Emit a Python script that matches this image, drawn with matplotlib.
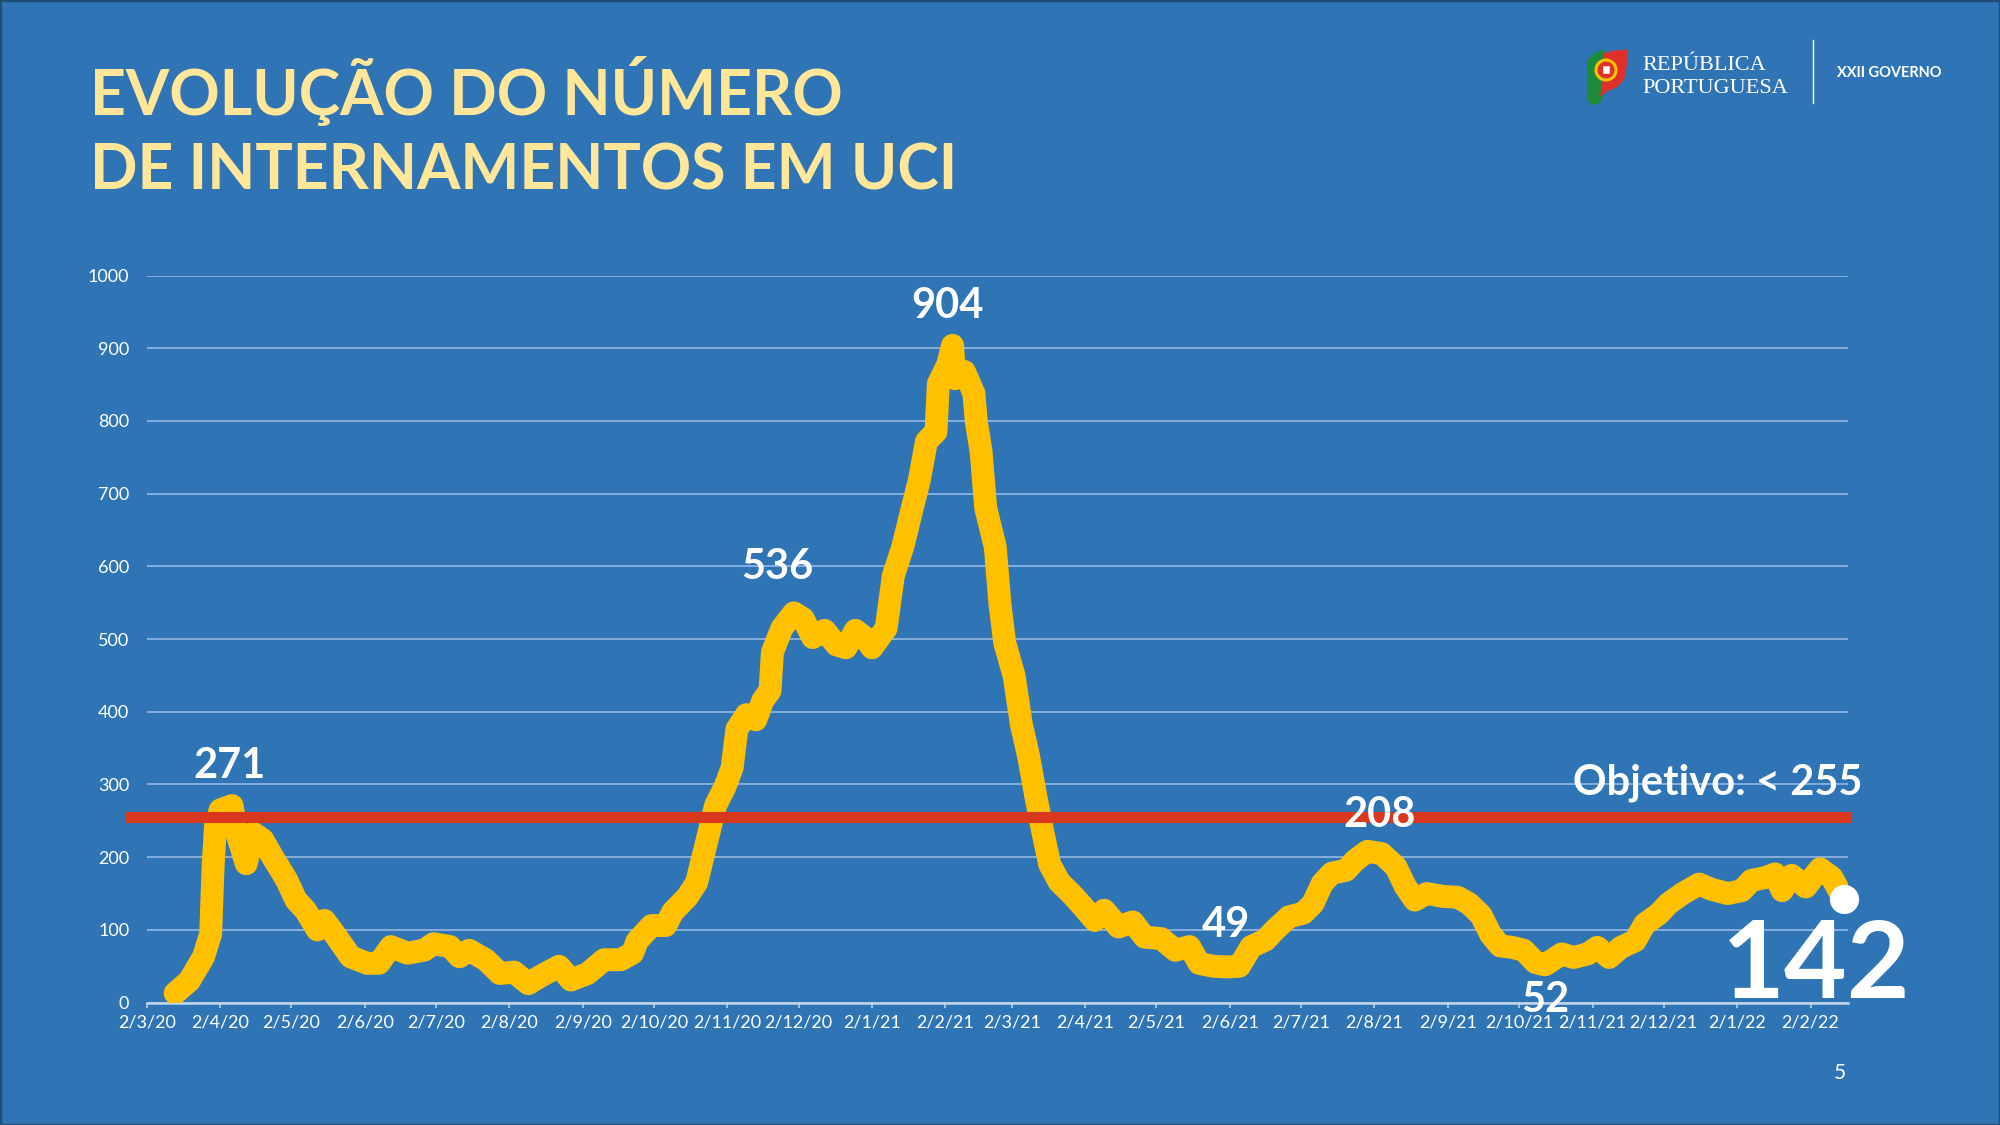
import matplotlib
matplotlib.use('Agg')
import matplotlib.pyplot as plt
import matplotlib.transforms as mtransforms
from matplotlib.patches import Polygon, Circle, Rectangle
import pandas as pd

# ICU patients, grouped by month
dates = [
    '2020-03-14', '2020-03-20', '2020-03-26', '2020-03-29', '2020-03-30', '2020-03-31',
    '2020-04-02', '2020-04-07', '2020-04-09', '2020-04-13', '2020-04-16', '2020-04-20', '2020-04-24', '2020-04-30',
    '2020-05-04', '2020-05-08', '2020-05-13', '2020-05-16', '2020-05-21', '2020-05-27',
    '2020-06-03', '2020-06-08', '2020-06-13', '2020-06-20', '2020-06-27',
    '2020-07-01', '2020-07-08', '2020-07-12', '2020-07-16', '2020-07-23', '2020-07-29',
    '2020-08-04', '2020-08-10', '2020-08-15', '2020-08-23', '2020-08-28',
    '2020-09-04', '2020-09-11', '2020-09-18', '2020-09-23', '2020-09-25',
    '2020-10-01', '2020-10-07', '2020-10-10', '2020-10-16', '2020-10-20', '2020-10-24', '2020-10-28',
    '2020-11-01', '2020-11-04', '2020-11-06', '2020-11-10', '2020-11-14', '2020-11-17', '2020-11-20', '2020-11-21', '2020-11-25', '2020-11-30',
    '2020-12-04', '2020-12-08', '2020-12-13', '2020-12-18', '2020-12-22', '2020-12-26', '2020-12-30',
    '2021-01-02', '2021-01-08', '2021-01-11', '2021-01-15', '2021-01-19', '2021-01-22', '2021-01-25', '2021-01-29', '2021-01-30',
    '2021-02-03', '2021-02-05', '2021-02-06', '2021-02-10', '2021-02-14', '2021-02-15', '2021-02-17', '2021-02-19', '2021-02-23', '2021-02-25', '2021-02-27',
    '2021-03-03', '2021-03-06', '2021-03-09', '2021-03-12', '2021-03-15', '2021-03-18', '2021-03-22', '2021-03-27',
    '2021-04-01', '2021-04-06', '2021-04-10', '2021-04-16', '2021-04-22', '2021-04-27',
    '2021-05-04', '2021-05-10', '2021-05-16', '2021-05-20', '2021-05-26',
    '2021-06-01', '2021-06-06', '2021-06-11', '2021-06-17', '2021-06-21', '2021-06-27',
    '2021-07-03', '2021-07-07', '2021-07-11', '2021-07-15', '2021-07-21', '2021-07-25', '2021-07-30',
    '2021-08-05', '2021-08-11', '2021-08-15', '2021-08-19', '2021-08-24', '2021-08-31',
    '2021-09-06', '2021-09-11', '2021-09-16', '2021-09-20', '2021-09-24', '2021-09-29',
    '2021-10-04', '2021-10-09', '2021-10-13', '2021-10-20', '2021-10-25', '2021-10-31',
    '2021-11-04', '2021-11-09', '2021-11-14', '2021-11-20', '2021-11-24', '2021-11-30',
    '2021-12-04', '2021-12-10', '2021-12-17', '2021-12-22', '2021-12-29',
    '2022-01-04', '2022-01-08', '2022-01-14', '2022-01-18', '2022-01-21', '2022-01-25', '2022-01-31',
    '2022-02-03', '2022-02-06', '2022-02-11', '2022-02-16',
]
icu = [
    13, 30, 63, 95, 187, 242,
    265, 271, 233, 191, 233, 224, 201, 169,
    141, 127, 100, 113, 91, 63,
    54, 54, 77, 68, 72,
    81, 77, 63, 72, 59, 40,
    42, 26, 36, 50, 31,
    40, 59, 59, 68, 85,
    106, 106, 125, 145, 165, 218, 271,
    297, 323, 376, 396, 389, 416, 429, 482, 515, 536,
    528, 502, 512, 492, 488, 512, 502,
    488, 515, 587, 627, 680, 719, 772, 785, 851,
    878, 904, 858, 868, 838, 799, 759, 680, 627, 548, 495,
    449, 383, 340, 286, 236, 190, 166, 150,
    132, 113, 127, 104, 111, 90,
    88, 72, 77, 54, 50,
    49, 50, 77, 86, 100, 118,
    123, 136, 164, 178, 182, 196, 208,
    205, 187, 160, 141, 150, 146,
    145, 136, 120, 94, 78, 76,
    72, 55, 52, 67, 62, 67,
    76, 62, 76, 85, 108, 122,
    136, 150, 163, 156, 150,
    154, 168, 172, 177, 154, 175, 159,
    172, 184, 172, 142,
]
tick_labels = ['2/3/20', '2/4/20', '2/5/20', '2/6/20', '2/7/20', '2/8/20', '2/9/20', '2/10/20',
               '2/11/20', '2/12/20', '2/1/21', '2/2/21', '2/3/21', '2/4/21', '2/5/21', '2/6/21',
               '2/7/21', '2/8/21', '2/9/21', '2/10/21', '2/11/21', '2/12/21', '2/1/22', '2/2/22']
target = 255
labelled_dates = ['2020-04-07', '2020-11-30', '2021-02-05', '2021-06-01', '2021-07-30', '2021-10-13', '2022-02-16']

bg = '#2F75B5'
plt.rcParams['font.family'] = ['Lato', 'DejaVu Sans']

fig = plt.figure(figsize=(20, 11.25), dpi=100, facecolor=bg)
# pixel coords, origin top-left
px = mtransforms.Affine2D().scale(1 / 2000, -1 / 1125).translate(0, 1) + fig.transFigure

ax = fig.add_axes([0.07335, 0.1088, 0.85065, 0.64631])
ax.set_facecolor(bg)

x = pd.to_datetime(dates)
ax.plot(x, icu, color='#FFC000', lw=16.5, solid_capstyle='round', solid_joinstyle='round', zorder=3)
ax.plot(pd.to_datetime(['2020-02-22', '2022-02-19']), [target, target], color='#D9381E', lw=8,
        solid_capstyle='butt', zorder=4, clip_on=False)
ax.plot([x[-1]], [icu[-1]], 'o', color='white', ms=20, zorder=5, clip_on=False)

ax.set_xlim(pd.Timestamp('2020-03-02'), pd.Timestamp('2022-02-17 19:00'))
ax.set_ylim(0, 1000)
ax.set_yticks(range(0, 1001, 100))
ax.set_xticks(pd.date_range('2020-03-01', '2022-02-01', freq='MS') + pd.Timedelta(days=1))
ax.set_xticklabels(tick_labels)

ax.yaxis.grid(True, color='#8DB3E2', lw=1.3)
ax.set_axisbelow(True)
for s in ['left', 'top', 'right']:
    ax.spines[s].set_visible(False)
ax.spines['bottom'].set_color('#C5D5EA')
ax.spines['bottom'].set_linewidth(1.8)
ax.tick_params(axis='x', colors='#C5D5EA', labelcolor='white', length=3.6, width=1.1, labelsize=13, pad=5)
ax.tick_params(axis='y', length=0, labelcolor='white', labelsize=13, pad=12.5)

# value callouts: (dx, dy) in points from the point, font size
offsets = [(-2, 19.5, 30), (-12, 24.5, 30), (-4, 20, 30), (-1, 21.8, 30),
           (9, 17.8, 30), (0, -34, 30), (-20, -71, 78)]
for d, (dx, dy, fs) in zip(labelled_dates, offsets):
    i = dates.index(d)
    ax.annotate(str(icu[i]), xy=(x[i], icu[i]), xytext=(dx, dy), textcoords='offset points',
                ha='center', va='baseline', fontsize=fs, color='white', fontweight='bold',
                zorder=6, annotation_clip=False)

fig.text(1862, 795, f'Objetivo: < {target}', transform=px, ha='right', va='baseline',
         fontsize=30, color='white', fontweight='bold')

# title
fig.text(90, 115, 'EVOLUÇÃO DO NÚMERO', transform=px, fontsize=45, color='#FFE699',
         fontweight='bold', va='baseline')
fig.text(90, 190, 'DE INTERNAMENTOS EM UCI', transform=px, fontsize=45, color='#FFE699',
         fontweight='bold', va='baseline')

# logo
fig.add_artist(Polygon([(1587.3, 61.7), (1591.7, 55), (1600, 50.7), (1605, 50), (1606, 83.3),
                        (1603.3, 96.7), (1600, 103.3), (1591.7, 105), (1587.3, 100)],
                       closed=True, facecolor='#1E8A3C', edgecolor='none', transform=px))
fig.add_artist(Polygon([(1603.3, 53.3), (1613.3, 50.7), (1627.3, 49.3), (1626.7, 66.7), (1624, 80),
                        (1616.7, 87.3), (1606.7, 91.7), (1600, 96.7), (1603.3, 76.7)],
                       closed=True, facecolor='#E0302A', edgecolor='none', transform=px))
fig.add_artist(Circle((1606, 70), 10, facecolor='#E0302A', edgecolor='#F5C400', lw=2.2, transform=px))
fig.add_artist(Rectangle((1602, 65), 8, 9, facecolor='white', edgecolor='#E0302A', lw=1, transform=px))
fig.text(1642.7, 70, 'REPÚBLICA', transform=px, fontsize=16, color='white',
         family=['Liberation Serif', 'DejaVu Serif'], va='baseline')
fig.text(1642.7, 92.7, 'PORTUGUESA', transform=px, fontsize=16, color='white',
         family=['Liberation Serif', 'DejaVu Serif'], va='baseline')
fig.add_artist(plt.Line2D([1813.3, 1813.3], [40, 102.7], color='white', lw=1, transform=px))
fig.text(1837.3, 77.3, 'XXII GOVERNO', transform=px, fontsize=10.5, color='white',
         fontweight='bold', va='baseline')

fig.text(1840, 1079, '5', transform=px, fontsize=15, color='white', ha='center', va='baseline')

fig.add_artist(Rectangle((0, 0), 1, 1, transform=fig.transFigure, fill=False,
                         edgecolor='#1F4E79', lw=2.5))

fig.savefig('out.png', dpi=100, facecolor=bg)
